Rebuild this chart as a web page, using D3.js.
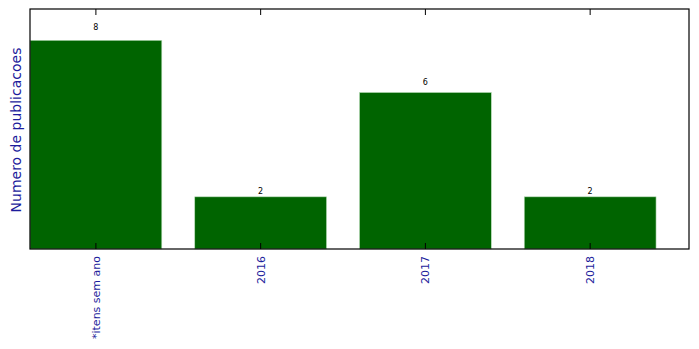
<!DOCTYPE html>
<html><head><meta charset="utf-8">
<script src="https://cdn.jsdelivr.net/npm/d3@7"></script>
<style>body{margin:0;background:#fff;} svg{display:block;}</style>
</head><body>
<script>
const categories = ["*itens sem ano", "2016", "2017", "2018"];
const values = [8, 2, 6, 2];
const yLabel = "Numero de publicacoes";

const W = 699, H = 349;
const svg = d3.select("body").append("svg").attr("width", W).attr("height", H);

const x = d3.scaleLinear().domain([-0.4, categories.length - 0.4]).range([30, 689]);
const y = d3.scaleLinear().domain([0, 9.2]).range([249, 9]);
const bw = x(0.8) - x(0);

svg.selectAll("rect.bar").data(values).enter().append("rect")
  .attr("class", "bar")
  .attr("x", (d, i) => x(i - 0.4))
  .attr("y", d => y(d))
  .attr("width", bw)
  .attr("height", d => y(0) - y(d))
  .attr("fill", "#006400")
  .attr("stroke", "#b8dcb8").attr("stroke-width", 0.6);

svg.selectAll("text.val").data(values).enter().append("text")
  .attr("class", "val")
  .attr("x", (d, i) => x(i))
  .attr("y", d => y(d * 1.05))
  .attr("text-anchor", "middle")
  .attr("font-family", "DejaVu Sans").attr("font-size", 8)
  .attr("fill", "#000")
  .text(d => d);

svg.append("rect").attr("x", 30).attr("y", 9).attr("width", 659).attr("height", 240)
  .attr("fill", "none").attr("stroke", "#000").attr("stroke-width", 1.2);

categories.forEach((c, i) => {
  svg.append("line").attr("x1", x(i)).attr("x2", x(i)).attr("y1", 9).attr("y2", 15).attr("stroke", "#000");
  svg.append("line").attr("x1", x(i)).attr("x2", x(i)).attr("y1", 249).attr("y2", 243).attr("stroke", "#000");
});

svg.selectAll("text.xl").data(categories).enter().append("text")
  .attr("class", "xl")
  .attr("transform", (d, i) => `translate(${x(i) + 4},256) rotate(-90)`)
  .attr("text-anchor", "end")
  .attr("font-family", "DejaVu Sans").attr("font-size", 11)
  .attr("fill", "#1c1c9c")
  .text(d => d);

svg.append("text")
  .attr("transform", `translate(21,130) rotate(-90)`)
  .attr("text-anchor", "middle")
  .attr("font-family", "DejaVu Sans").attr("font-size", 14)
  .attr("fill", "#1c1c9c")
  .text(yLabel);
</script>
</body></html>
